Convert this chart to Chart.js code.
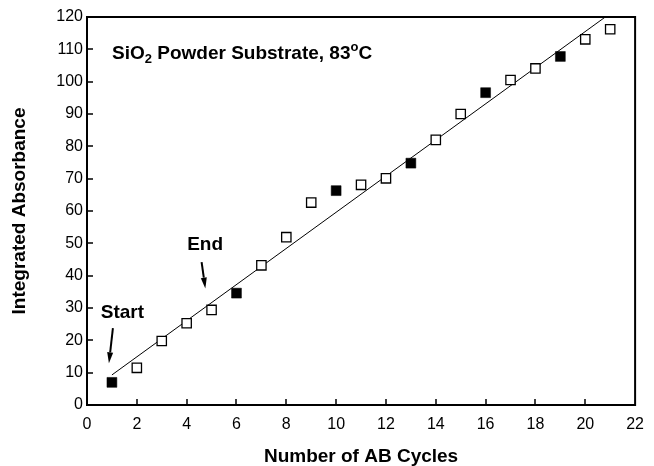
<!DOCTYPE html>
<html>
<head>
<meta charset="utf-8">
<script src="https://cdn.jsdelivr.net/npm/chart.js@4"></script>
<style>
  html, body { margin: 0; padding: 0; background: #fff; }
  #wrap { width: 654px; height: 466px; }
</style>
</head>
<body>
<div id="wrap"><canvas id="chart" width="654" height="466"></canvas></div>
<script>
// cycles sampled with the fresh (filled) vs. reused (open) substrate
const filledCycles = [1, 6, 10, 13, 16, 19];
const filledAbs = [7.0, 34.6, 66.3, 74.8, 96.6, 107.8];

const openCycles = [2, 3, 4, 5, 7, 8, 9, 11, 12, 14, 15, 17, 18, 20, 21];
const openAbs = [11.5, 19.8, 25.3, 29.4, 43.2, 51.9, 62.6, 68.1, 70.1, 82.0, 90.0, 100.5, 104.1, 113.1, 116.2];

// linear fit end points
const fitCycles = [1, 21];
const fitAbs = [9.3, 121.1];

const FONT = "'Liberation Sans', Arial, sans-serif";

const toPoints = (xs, ys) => xs.map((x, i) => ({ x: x, y: ys[i] }));

// frame, inward ticks, inner title and Start/End arrows
const decorations = {
  id: 'decorations',
  afterDraw(chart) {
    const { ctx, chartArea: a, scales } = chart;
    const xs = scales.x, ys = scales.y;
    ctx.save();

    // inward tick marks
    ctx.strokeStyle = '#000';
    ctx.lineWidth = 1.5;
    ctx.beginPath();
    xs.ticks.forEach(t => {
      const px = Math.round(xs.getPixelForValue(t.value));
      if (px <= a.left + 1 || px >= a.right - 1) return;
      ctx.moveTo(px, a.bottom);
      ctx.lineTo(px, a.bottom - 6);
    });
    ys.ticks.forEach(t => {
      const py = Math.round(ys.getPixelForValue(t.value));
      if (py <= a.top + 1 || py >= a.bottom - 1) return;
      ctx.moveTo(a.left, py);
      ctx.lineTo(a.left + 6, py);
    });
    ctx.stroke();

    // box round the plot
    ctx.lineWidth = 2;
    ctx.strokeRect(a.left, a.top, a.right - a.left, a.bottom - a.top);

    // inner title with sub/superscripts
    ctx.fillStyle = '#000';
    ctx.textBaseline = 'alphabetic';
    ctx.textAlign = 'left';
    let x = 112;
    const base = 59;
    const pieces = [
      { t: 'SiO', size: 19, dy: 0 },
      { t: '2', size: 13, dy: 4 },
      { t: ' Powder Substrate, 83', size: 19, dy: 0 },
      { t: 'o', size: 13, dy: -8 },
      { t: 'C', size: 19, dy: 0 }
    ];
    pieces.forEach(p => {
      ctx.font = `bold ${p.size}px ${FONT}`;
      ctx.fillText(p.t, x, base + p.dy);
      x += ctx.measureText(p.t).width;
    });

    // Start / End labels with arrows
    const labels = [
      { text: 'Start', at: [1.42, 28.5], from: [1.04, 23.8], to: [0.88, 12.9] },
      { text: 'End', at: [4.74, 49.5], from: [4.60, 44.2], to: [4.75, 36.0] }
    ];
    ctx.font = `bold 19px ${FONT}`;
    ctx.textAlign = 'center';
    ctx.textBaseline = 'middle';
    labels.forEach(l => {
      ctx.fillText(l.text, xs.getPixelForValue(l.at[0]), ys.getPixelForValue(l.at[1]));
      const x1 = xs.getPixelForValue(l.from[0]), y1 = ys.getPixelForValue(l.from[1]);
      const x2 = xs.getPixelForValue(l.to[0]), y2 = ys.getPixelForValue(l.to[1]);
      const ang = Math.atan2(y2 - y1, x2 - x1);
      const head = 11, half = 3;
      const bx = x2 - head * Math.cos(ang), by = y2 - head * Math.sin(ang);
      ctx.lineWidth = 2;
      ctx.beginPath();
      ctx.moveTo(x1, y1);
      ctx.lineTo(bx, by);
      ctx.stroke();
      ctx.beginPath();
      ctx.moveTo(x2, y2);
      ctx.lineTo(bx + half * Math.sin(ang), by - half * Math.cos(ang));
      ctx.lineTo(bx - half * Math.sin(ang), by + half * Math.cos(ang));
      ctx.closePath();
      ctx.fill();
    });

    ctx.restore();
  }
};

new Chart(document.getElementById('chart'), {
  type: 'scatter',
  data: {
    datasets: [
      {
        label: 'fit',
        data: toPoints(fitCycles, fitAbs),
        showLine: true,
        borderColor: '#000',
        borderWidth: 1,
        pointRadius: 0,
        order: 3
      },
      {
        label: 'open',
        data: toPoints(openCycles, openAbs),
        pointStyle: 'rect',
        pointRadius: 6.6,
        backgroundColor: '#fff',
        borderColor: '#000',
        borderWidth: 1.3,
        order: 2
      },
      {
        label: 'filled',
        data: toPoints(filledCycles, filledAbs),
        pointStyle: 'rect',
        pointRadius: 7,
        backgroundColor: '#000',
        borderColor: '#000',
        borderWidth: 0.5,
        order: 1
      }
    ]
  },
  options: {
    responsive: false,
    animation: false,
    layout: { padding: { top: 17, right: 10, left: 0, bottom: 0 } },
    plugins: {
      legend: { display: false },
      tooltip: { enabled: false }
    },
    scales: {
      x: {
        type: 'linear',
        min: 0,
        max: 22,
        ticks: {
          stepSize: 2,
          color: '#000',
          padding: 10,
          font: { family: FONT, size: 16 }
        },
        grid: { display: false, drawTicks: false },
        border: { display: true, color: '#000', width: 2 },
        title: {
          display: true,
          text: 'Number of AB Cycles',
          color: '#000',
          padding: { top: 0, bottom: 0 },
          font: { family: FONT, size: 19, weight: 'bold', lineHeight: 1 }
        },
        afterFit(scale) { scale.height = 61; }
      },
      y: {
        min: 0,
        max: 120,
        ticks: {
          stepSize: 10,
          color: '#000',
          padding: 4,
          font: { family: FONT, size: 16 }
        },
        grid: { display: false, drawTicks: false },
        border: { display: true, color: '#000', width: 2 },
        title: {
          display: true,
          text: 'Integrated Absorbance',
          color: '#000',
          padding: { top: 10, bottom: 0 },
          font: { family: FONT, size: 19, weight: 'bold', lineHeight: 1 }
        },
        afterFit(scale) { scale.width = 87; }
      }
    }
  },
  plugins: [decorations]
});
</script>
</body>
</html>
